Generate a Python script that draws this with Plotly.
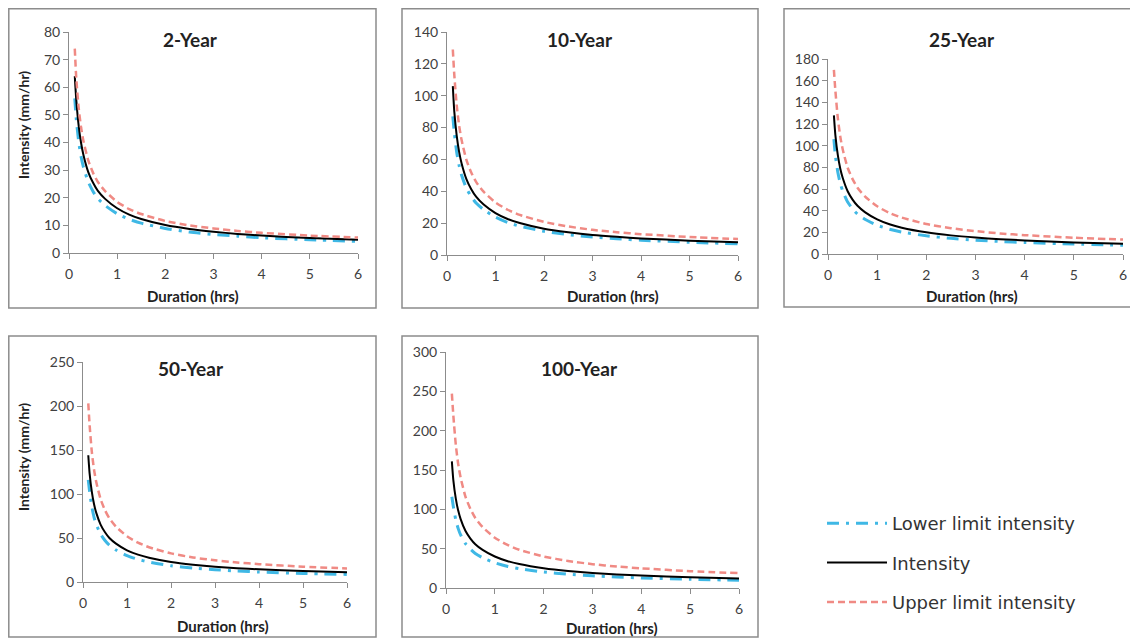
import plotly.graph_objects as go

# the page body adds an 8px offset; the figure is sized to fit the rest
OFF = 8
W, H = 1138 - OFF, 639 - OFF

duration = [0.12, 0.15, 0.2, 0.25, 0.3, 0.4, 0.5, 0.6, 0.75, 1,
            1.25, 1.5, 2, 2.5, 3, 3.5, 4, 5, 6]

panel_titles = ["2-Year", "10-Year", "25-Year", "50-Year", "100-Year"]

intensity_2 = [64, 55.6, 46.2, 39.9, 35.5, 29.3, 25.4, 22.5, 19.6, 16.2, 13.9, 12.3, 10.1, 8.7, 7.7, 6.9, 6.3, 5.4, 4.8]
upper_2 = [74, 63.5, 52.7, 45.5, 40.5, 33.5, 29.0, 25.7, 22.4, 18.5, 15.9, 14.1, 11.6, 10.0, 8.9, 8.0, 7.3, 6.3, 5.6]
lower_2 = [56, 48.7, 40.5, 34.9, 31.1, 25.7, 22.3, 19.7, 17.2, 14.2, 12.2, 10.8, 8.9, 7.6, 6.7, 6.1, 5.5, 4.8, 4.2]

intensity_10 = [106, 90.2, 75.0, 64.7, 57.6, 47.6, 41.3, 36.6, 31.8, 26.3, 22.6, 20.1, 16.5, 14.3, 12.6, 11.4, 10.4, 9.0, 8.0]
upper_10 = [129, 113.2, 94.1, 81.2, 72.3, 59.7, 51.8, 45.9, 39.9, 33, 28.4, 25.2, 20.8, 17.9, 15.8, 14.3, 13.1, 11.3, 10.0]
lower_10 = [87, 77.1, 64.5, 56.2, 50.2, 41.9, 36.7, 32.6, 28.6, 23.8, 20.4, 18.1, 14.9, 12.8, 11.3, 10.2, 9.3, 8.0, 7.0]

intensity_25 = [128, 109.8, 91.2, 78.7, 70.1, 57.9, 50.2, 44.5, 38.7, 32, 27.5, 24.3, 20.0, 17.2, 15.2, 13.7, 12.5, 10.7, 9.5]
upper_25 = [170, 150.9, 125.4, 108.2, 96.4, 79.6, 69.1, 61.2, 53.2, 44, 37.9, 33.6, 27.7, 23.8, 21.1, 19.0, 17.4, 15.0, 13.3]
lower_25 = [106, 90.9, 75.5, 65.2, 58.0, 48.0, 41.6, 36.8, 32.1, 26.5, 22.9, 20.3, 16.8, 14.5, 12.8, 11.6, 10.6, 9.2, 8.1]

intensity_50 = [144, 123.5, 102.6, 88.6, 78.8, 65.2, 56.5, 50.0, 43.6, 36, 31.1, 27.6, 22.8, 19.7, 17.4, 15.7, 14.4, 12.5, 11.0]
upper_50 = [203, 178.4, 148.2, 127.9, 113.9, 94.1, 81.6, 72.3, 62.9, 52, 44.7, 39.5, 32.5, 27.9, 24.6, 22.2, 20.3, 17.4, 15.4]
lower_50 = [116, 102.9, 85.5, 73.8, 65.7, 54.3, 47.1, 41.7, 36.3, 30, 25.7, 22.6, 18.5, 15.8, 13.9, 12.5, 11.4, 9.7, 8.6]

intensity_100 = [161, 137.2, 114.0, 98.4, 87.6, 72.4, 62.8, 55.6, 48.4, 40, 34.4, 30.5, 25.2, 21.7, 19.2, 17.3, 15.8, 13.6, 12.1]
upper_100 = [247, 219.5, 182.4, 157.4, 140.2, 115.8, 100.5, 89.0, 77.4, 64, 55.0, 48.6, 40.0, 34.4, 30.3, 27.3, 25.0, 21.4, 18.9]
lower_100 = [116, 103.7, 86.7, 75.5, 67.5, 56.3, 49.3, 43.8, 38.4, 32, 27.6, 24.5, 20.3, 17.5, 15.5, 14.0, 12.8, 11.1, 9.8]

y_max = [80, 140, 180, 250, 300]
y_dtick = [10, 20, 20, 50, 50]

series = [
    (lower_2, intensity_2, upper_2),
    (lower_10, intensity_10, upper_10),
    (lower_25, intensity_25, upper_25),
    (lower_50, intensity_50, upper_50),
    (lower_100, intensity_100, upper_100),
]

# layout geometry in screen pixels
plot_px = [  # x0, x1, ytop, ybottom
    (69, 358, 32, 253),
    (447, 738, 32, 255),
    (828, 1123, 59, 254),
    (83, 347, 362, 582),
    (446, 739, 352, 588),
]
border_px = [
    (8.8, 376, 8.8, 308),
    (402, 758, 8.8, 308),
    (784, 1136, 8.8, 307),
    (8.8, 376, 336, 637),
    (402, 758, 336, 637),
]
title_px = [(190, 39), (580, 39), (962, 39), (191, 368), (579, 368)]
xtitle_px = [(193, 296), (613, 296), (972, 296), (223, 626), (612, 628)]
ytitle_px = [(23, 125), None, None, (23, 457), None]

def px(x):
    return (x - OFF) / W

def py(y):
    return 1 - (y - OFF) / H

FONT = "Lato"
LOW_C = "#3FB8E5"
UP_C = "#F08A84"
AX_C = "#8C8C8C"

fig = go.Figure()
layout = dict(
    template="none",
    width=W, height=H, margin=dict(l=0, r=0, t=0, b=0, pad=0),
    paper_bgcolor="white", plot_bgcolor="white",
    showlegend=True,
)
shapes = []
annotations = []

names = ["Lower limit intensity", "Intensity", "Upper limit intensity"]
styles = [
    dict(color=LOW_C, width=3, dash="12px,7px,3px,7px"),
    dict(color="black", width=2),
    dict(color=UP_C, width=2.5, dash="7px,4px"),
]

for i in range(5):
    ax = "" if i == 0 else str(i + 1)
    x0, x1, yt, yb = plot_px[i]
    for k in range(3):
        fig.add_trace(go.Scatter(
            x=duration, y=series[i][k], mode="lines",
            line=dict(shape="spline", smoothing=0.6, **styles[k]),
            name=names[k], legendgroup=names[k],
            showlegend=(i == 0),
            xaxis="x" + ax, yaxis="y" + ax,
        ))
    common = dict(
        showgrid=False, zeroline=False, showline=True, linecolor=AX_C,
        linewidth=1, ticks="outside", ticklen=5, tickcolor=AX_C,
        automargin=False,
        tickfont=dict(family=FONT, size=14, color="#404040"),
    )
    layout["xaxis" + ax] = dict(domain=[px(x0), px(x1)], anchor="y" + ax,
                                range=[0, 6], dtick=1, ticklabelstandoff=3,
                                **common)
    layout["yaxis" + ax] = dict(domain=[py(yb), py(yt)], anchor="x" + ax,
                                range=[0, y_max[i]], dtick=y_dtick[i], **common)
    bx0, bx1, by0, by1 = border_px[i]
    shapes.append(dict(type="rect", xref="paper", yref="paper",
                       x0=px(bx0), x1=px(bx1), y0=py(by1), y1=py(by0),
                       line=dict(color=AX_C, width=1.5)))
    tx, ty = title_px[i]
    annotations.append(dict(text="<b>" + panel_titles[i] + "</b>",
                            x=px(tx), y=py(ty), xref="paper", yref="paper",
                            showarrow=False, xanchor="center", yanchor="middle",
                            font=dict(family=FONT, size=19, color="#222222")))
    xx, xy = xtitle_px[i]
    annotations.append(dict(text="<b>Duration (hrs)</b>",
                            x=px(xx), y=py(xy), xref="paper", yref="paper",
                            showarrow=False, xanchor="center", yanchor="middle",
                            font=dict(family=FONT, size=15, color="#222222")))
    if ytitle_px[i]:
        yx, yy = ytitle_px[i]
        annotations.append(dict(text="<b>Intensity (mm/hr)</b>", textangle=-90,
                                x=px(yx), y=py(yy), xref="paper", yref="paper",
                                showarrow=False, xanchor="center", yanchor="middle",
                                font=dict(family=FONT, size=14, color="#222222")))

layout["legend"] = dict(
    x=px(822), y=py(505), xanchor="left", yanchor="top",
    bgcolor="rgba(0,0,0,0)", itemwidth=60, tracegroupgap=13,
    traceorder="grouped",
    font=dict(family="DejaVu Sans", size=18, color="#333333"),
)
layout["shapes"] = shapes
layout["annotations"] = annotations
fig.update_layout(**layout)

fig.write_html("out.html")
